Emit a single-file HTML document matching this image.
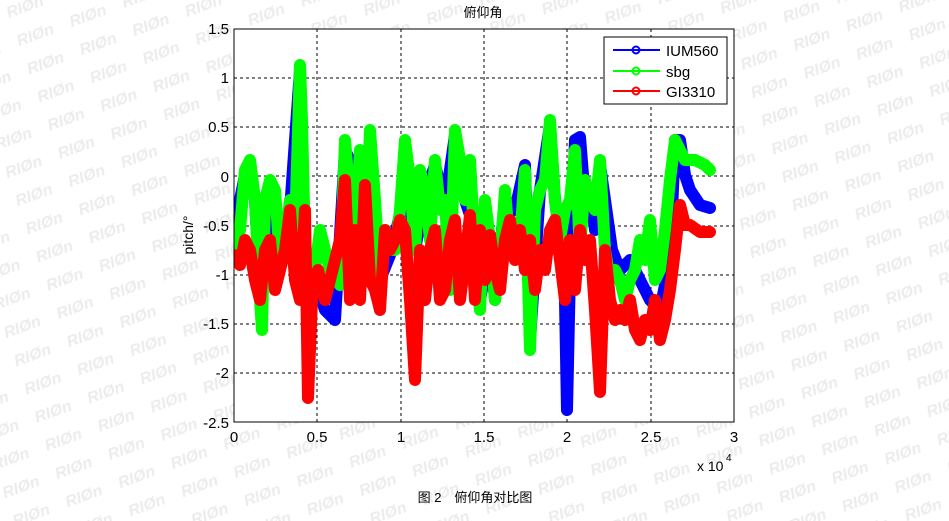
<!DOCTYPE html>
<html><head><meta charset="utf-8"><style>
body{margin:0;background:#fff;}
svg{display:block;font-family:"Liberation Sans","Noto Sans CJK SC",sans-serif;}
</style></head><body>
<svg width="949" height="521" viewBox="0 0 949 521" xmlns="http://www.w3.org/2000/svg">
<rect width="949" height="521" fill="#fff"/>
<defs>
<pattern id="wm" width="56" height="30" patternUnits="userSpaceOnUse" patternTransform="rotate(-20)">
<text x="2" y="20" font-size="16" font-weight="bold" fill="#ececec" font-style="italic">RIØn</text>
</pattern>
<clipPath id="c"><rect x="234" y="29" width="500" height="393"/></clipPath>
</defs>
<rect width="949" height="521" fill="url(#wm)"/>
<rect x="234" y="29" width="500" height="393" fill="#fff"/>
<g stroke="#000" stroke-width="1" stroke-dasharray="3,3">
<line x1="317" y1="29" x2="317" y2="422"/><line x1="401" y1="29" x2="401" y2="422"/>
<line x1="484" y1="29" x2="484" y2="422"/><line x1="567" y1="29" x2="567" y2="422"/>
<line x1="651" y1="29" x2="651" y2="422"/>
<line x1="234" y1="78" x2="734" y2="78"/><line x1="234" y1="127" x2="734" y2="127"/>
<line x1="234" y1="176" x2="734" y2="176"/><line x1="234" y1="226" x2="734" y2="226"/>
<line x1="234" y1="275" x2="734" y2="275"/><line x1="234" y1="324" x2="734" y2="324"/>
<line x1="234" y1="373" x2="734" y2="373"/>
</g>
<g clip-path="url(#c)" fill="none" stroke-width="12" stroke-linejoin="round" stroke-linecap="round">
<polyline stroke="#0000ff" points="234,230 240,200 245,175 250,165 255,200 260,290 265,210 270,190 280,260 290,210 300,70 305,250 315,280 325,310 335,320 345,150 352,165 358,165 362,250 370,140 380,280 390,255 400,215 405,145 415,250 425,195 435,165 445,205 455,135 465,200 475,230 480,300 490,245 495,300 505,200 515,210 525,165 530,340 540,190 550,125 555,200 560,240 565,300 567,410 570,270 575,140 580,137 585,200 590,190 595,230 600,165 605,200 612,250 620,270 630,260 640,280 650,300 660,310 670,260 675,140 680,140 685,175 690,190 700,205 710,208"/>
<polyline stroke="#00ff00" points="234,255 240,230 245,170 250,160 255,200 260,300 262,330 265,200 270,180 275,190 280,260 285,240 290,200 295,230 300,65 302,120 305,250 310,280 315,270 320,230 330,270 340,285 345,140 350,200 355,245 360,150 365,260 370,130 375,200 380,280 385,230 390,250 395,250 400,210 405,140 410,180 415,250 420,170 425,190 430,240 435,160 440,210 445,200 450,290 455,130 460,160 465,200 470,160 475,250 480,310 485,200 490,240 495,300 500,260 505,190 510,250 515,230 520,240 525,170 530,350 535,210 540,190 545,180 550,120 555,200 560,240 565,210 570,200 575,150 580,250 585,180 590,200 595,210 600,160 605,250 610,280 615,270 620,280 625,300 630,280 635,270 640,240 645,260 650,220 655,280 660,270 665,230 670,180 675,140 680,150 685,160 695,160 705,165 710,170"/>
<polyline stroke="#ff0000" points="234,255 240,265 245,240 250,250 255,280 260,300 265,250 270,240 275,290 280,270 285,250 290,210 295,280 300,300 305,210 308,398 312,300 318,270 325,300 330,280 340,240 345,180 350,300 355,230 360,300 365,185 370,280 375,290 380,310 385,230 390,250 395,240 400,220 405,230 410,300 415,380 420,250 425,300 430,250 435,230 440,300 445,290 450,240 455,220 460,300 465,260 470,215 475,300 480,230 485,280 490,235 495,270 500,290 505,240 510,220 515,260 520,230 525,270 530,240 535,290 540,250 545,270 550,230 555,220 560,260 565,300 570,240 575,290 580,230 585,260 590,240 595,310 600,392 605,250 610,300 615,320 620,310 625,320 630,300 635,330 640,340 645,320 650,330 655,300 660,340 665,320 670,290 675,250 680,205 685,225 690,225 700,232 710,232"/>
</g>
<rect x="234" y="29" width="500" height="393" fill="none" stroke="#000" stroke-width="1"/>
<rect x="604" y="37" width="123" height="67" fill="#fff" stroke="#000"/>
<g stroke-width="2" fill="none">
<line x1="613" y1="50" x2="660" y2="50" stroke="#0000ff"/><circle cx="636" cy="50" r="3.5" stroke="#0000ff"/>
<line x1="613" y1="71" x2="660" y2="71" stroke="#00ff00"/><circle cx="636" cy="71" r="3.5" stroke="#00ff00"/>
<line x1="613" y1="91" x2="660" y2="91" stroke="#ff0000"/><circle cx="636" cy="91" r="3.5" stroke="#ff0000"/>
</g>
<g font-size="15" fill="#000">
<text x="666" y="56">IUM560</text><text x="666" y="77">sbg</text><text x="666" y="97">GI3310</text>
</g>
<g font-size="15" fill="#000" text-anchor="end">
<text x="229" y="34">1.5</text><text x="229" y="83">1</text><text x="229" y="132">0.5</text>
<text x="229" y="182">0</text><text x="229" y="231">-0.5</text><text x="229" y="280">-1</text>
<text x="229" y="329">-1.5</text><text x="229" y="378">-2</text><text x="229" y="428">-2.5</text>
</g>
<g font-size="15" fill="#000" text-anchor="middle">
<text x="234" y="442">0</text><text x="317" y="442">0.5</text><text x="401" y="442">1</text>
<text x="484" y="442">1.5</text><text x="567" y="442">2</text><text x="651" y="442">2.5</text>
<text x="734" y="442">3</text>
<text x="483" y="17" font-size="13">俯仰角</text>
</g>
<text x="697" y="471" font-size="14">x 10</text><text x="726" y="461" font-size="10">4</text>
<text x="193" y="235" font-size="14" text-anchor="middle" transform="rotate(-90 193 235)">pitch/°</text>
<text x="475" y="502" font-size="13" text-anchor="middle">图 2　俯仰角对比图</text>
</svg>
</body></html>
